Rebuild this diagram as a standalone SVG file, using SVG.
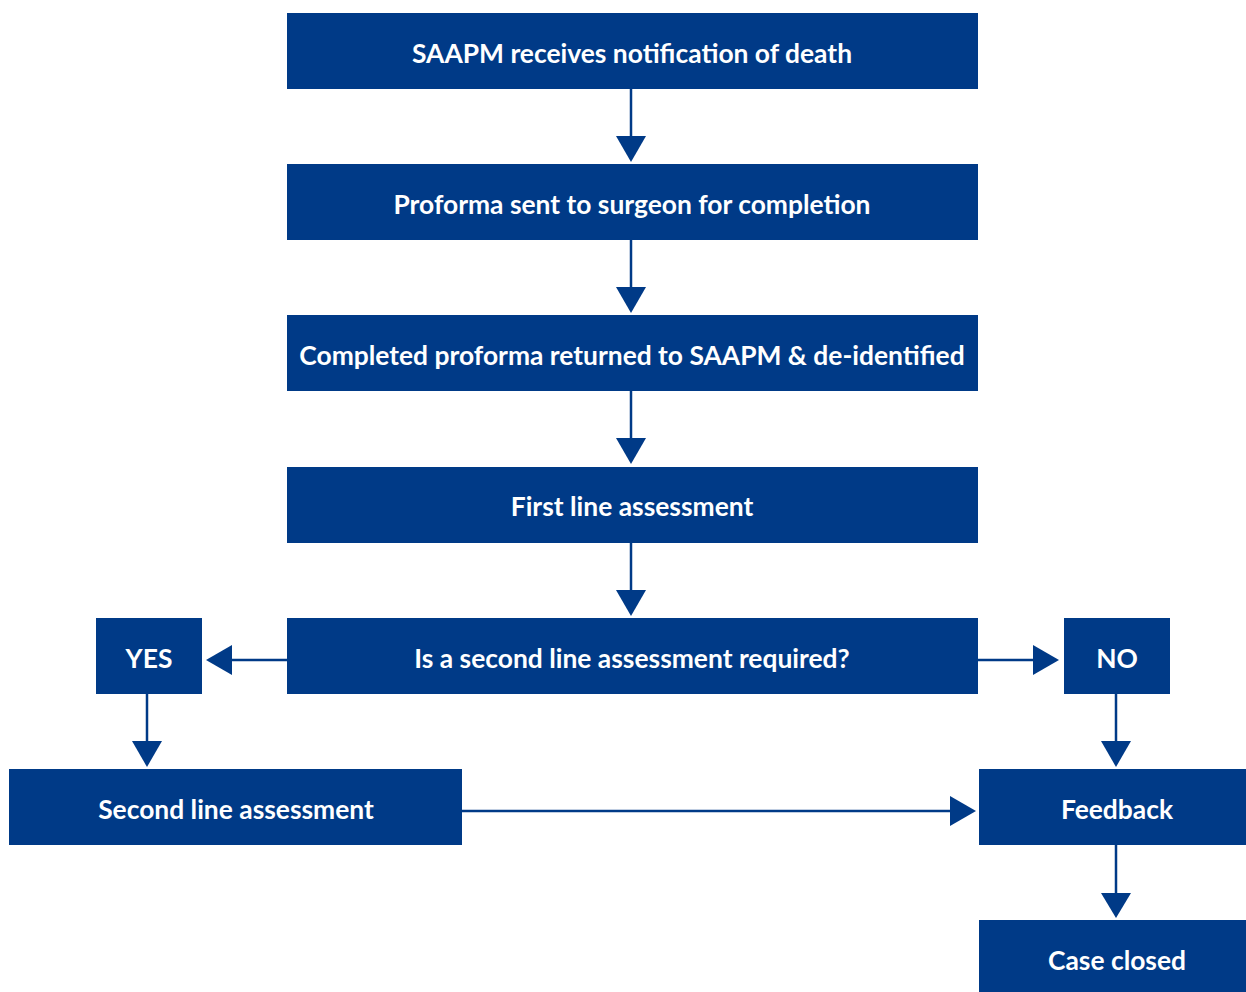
<svg xmlns="http://www.w3.org/2000/svg" width="1246" height="992" viewBox="0 0 1246 992">
<style>
.box{fill:#003a87}
.t{fill:#fff;font-family:Lato,"Open Sans",sans-serif;font-weight:700;font-size:26.4px;text-anchor:middle}
.c{stroke:#003a87;stroke-width:2.5;fill:none}
.h{fill:#003a87}
</style>
<rect width="1246" height="992" fill="#fff"/>
<g id="n1"><rect class="box" x="287" y="13" width="691" height="76"/><text class="t" x="632" y="63">SAAPM receives notification of death</text></g>
<g id="n2"><rect class="box" x="287" y="164" width="691" height="76"/><text class="t" x="632" y="214">Proforma sent to surgeon for completion</text></g>
<g id="n3"><rect class="box" x="287" y="315" width="691" height="76"/><text class="t" x="632" y="365">Completed proforma returned to SAAPM &amp; de-identified</text></g>
<g id="n4"><rect class="box" x="287" y="467" width="691" height="76"/><text class="t" x="632" y="516">First line assessment</text></g>
<g id="n5"><rect class="box" x="287" y="618" width="691" height="76"/><text class="t" x="632" y="668">Is a second line assessment required?</text></g>
<g id="yes"><rect class="box" x="96" y="618" width="106" height="76"/><text class="t" x="149" y="668">YES</text></g>
<g id="no"><rect class="box" x="1064" y="618" width="106" height="76"/><text class="t" x="1117" y="668">NO</text></g>
<g id="second"><rect class="box" x="9" y="769" width="453" height="76"/><text class="t" x="236" y="819">Second line assessment</text></g>
<g id="feedback"><rect class="box" x="979" y="769" width="267" height="76"/><text class="t" x="1117" y="819">Feedback</text></g>
<g id="closed"><rect class="box" x="979" y="920" width="267" height="72"/><text class="t" x="1117" y="970">Case closed</text></g>
<g id="connectors">
<line class="c" x1="631" y1="89" x2="631" y2="137"/><polygon class="h" points="616,136 646,136 631,162"/>
<line class="c" x1="631" y1="240" x2="631" y2="288"/><polygon class="h" points="616,287 646,287 631,313"/>
<line class="c" x1="631" y1="391" x2="631" y2="439"/><polygon class="h" points="616,438 646,438 631,464"/>
<line class="c" x1="631" y1="543" x2="631" y2="591"/><polygon class="h" points="616,590 646,590 631,616"/>
<line class="c" x1="287" y1="660" x2="231" y2="660"/><polygon class="h" points="232,645 232,675 206,660"/>
<line class="c" x1="978" y1="660" x2="1034" y2="660"/><polygon class="h" points="1033,645 1033,675 1059,660"/>
<line class="c" x1="147" y1="694" x2="147" y2="742"/><polygon class="h" points="132,741 162,741 147,767"/>
<line class="c" x1="1116" y1="694" x2="1116" y2="742"/><polygon class="h" points="1101,741 1131,741 1116,767"/>
<line class="c" x1="462" y1="811" x2="951" y2="811"/><polygon class="h" points="950,796 950,826 976,811"/>
<line class="c" x1="1116" y1="845" x2="1116" y2="894"/><polygon class="h" points="1101,893 1131,893 1116,918"/>
</g>
</svg>
